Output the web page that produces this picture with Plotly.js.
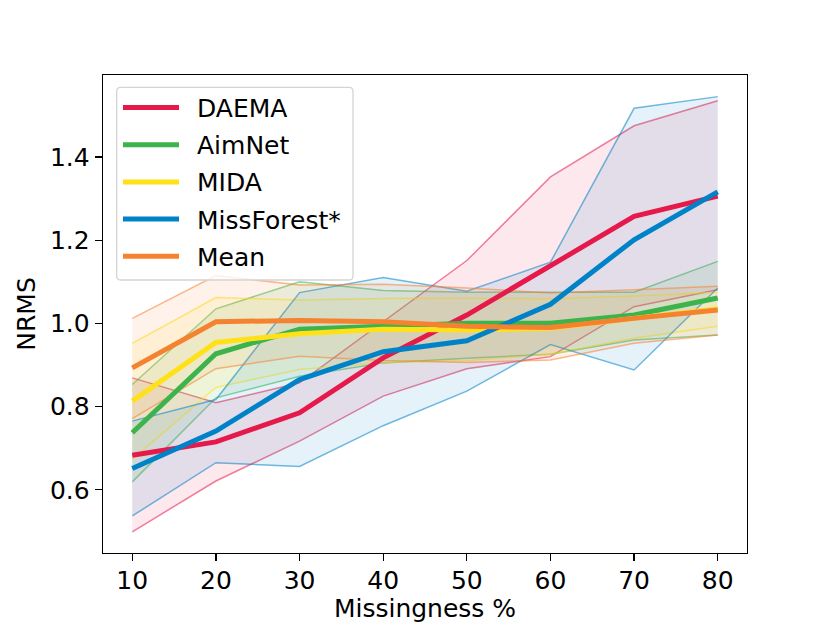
<!DOCTYPE html>
<html>
<head>
<meta charset="utf-8">
<script src="https://cdn.plot.ly/plotly-3.0.1.min.js"></script>
<style>html,body{margin:0;padding:0;background:#fff;}#chart{width:830px;height:623px;}</style>
</head>
<body>
<div id="chart"></div>
<script>
const missingness = [10, 20, 30, 40, 50, 60, 70, 80];

const daemaMean  = [0.683, 0.715, 0.785, 0.917, 1.020, 1.137, 1.257, 1.306];
const daemaUpper = [0.869, 0.809, 0.857, 1.004, 1.151, 1.352, 1.475, 1.535];
const daemaLower = [0.499, 0.621, 0.717, 0.825, 0.891, 0.920, 1.040, 1.081];

const aimnetMean  = [0.737, 0.927, 0.986, 0.992, 1.000, 1.000, 1.020, 1.061];
const aimnetUpper = [0.853, 1.035, 1.100, 1.079, 1.075, 1.075, 1.075, 1.149];
const aimnetLower = [0.619, 0.821, 0.873, 0.905, 0.916, 0.926, 0.960, 0.972];

const midaMean  = [0.813, 0.954, 0.975, 0.986, 0.984, 0.988, 1.012, 1.035];
const midaUpper = [0.952, 1.062, 1.056, 1.060, 1.061, 1.059, 1.066, 1.075];
const midaLower = [0.673, 0.846, 0.889, 0.906, 0.910, 0.926, 0.964, 0.993];

const missForestMean  = [0.651, 0.741, 0.865, 0.932, 0.958, 1.046, 1.201, 1.316];
const missForestUpper = [0.765, 0.817, 1.074, 1.110, 1.077, 1.147, 1.517, 1.545];
const missForestLower = [0.537, 0.665, 0.656, 0.754, 0.837, 0.949, 0.888, 1.085];

const meanMean  = [0.893, 1.004, 1.007, 1.004, 0.993, 0.990, 1.012, 1.032];
const meanUpper = [1.012, 1.115, 1.092, 1.094, 1.085, 1.073, 1.081, 1.089];
const meanLower = [0.771, 0.891, 0.921, 0.911, 0.906, 0.912, 0.952, 0.972];

const seriesNames = ['DAEMA', 'AimNet', 'MIDA', 'MissForest*', 'Mean'];
const seriesColors = [[230,25,75], [60,180,75], [255,225,25], [0,130,200], [245,130,48]];
const means = [daemaMean, aimnetMean, midaMean, missForestMean, meanMean];
const uppers = [daemaUpper, aimnetUpper, midaUpper, missForestUpper, meanUpper];
const lowers = [daemaLower, aimnetLower, midaLower, missForestLower, meanLower];

function rgba(c, a) { return 'rgba(' + c[0] + ',' + c[1] + ',' + c[2] + ',' + a + ')'; }

const traces = [];
seriesNames.forEach((name, i) => {
  const c = seriesColors[i];
  traces.push({
    x: missingness, y: lowers[i], type: 'scatter', mode: 'lines',
    line: {color: rgba(c, 0.55), width: 1.5}, showlegend: false, hoverinfo: 'skip'
  });
  traces.push({
    x: missingness, y: uppers[i], type: 'scatter', mode: 'lines',
    line: {color: rgba(c, 0.55), width: 1.5}, fill: 'tonexty', fillcolor: rgba(c, 0.1),
    showlegend: false, hoverinfo: 'skip'
  });
});
seriesNames.forEach((name, i) => {
  traces.push({
    x: missingness, y: means[i], type: 'scatter', mode: 'lines', name: name,
    line: {color: rgba(seriesColors[i], 1), width: 5}, showlegend: false
  });
});

// plot-area geometry (pixels) used only to place the legend box
const M = {l: 103, r: 83, t: 75, b: 70};
const PW = 830 - M.l - M.r, PH = 623 - M.t - M.b;
const px = v => (v - M.l) / PW;
const py = v => (623 - M.b - v) / PH;

// legend (drawn manually to match matplotlib spacing)
const shapes = [];
const annotations = [];
const bx0 = 116.7, bx1 = 353, by0 = 87.3, by1 = 280, rad = 4;
const rrect = 'M' + px(bx0 + rad) + ',' + py(by0) +
  ' L' + px(bx1 - rad) + ',' + py(by0) +
  ' Q' + px(bx1) + ',' + py(by0) + ' ' + px(bx1) + ',' + py(by0 + rad) +
  ' L' + px(bx1) + ',' + py(by1 - rad) +
  ' Q' + px(bx1) + ',' + py(by1) + ' ' + px(bx1 - rad) + ',' + py(by1) +
  ' L' + px(bx0 + rad) + ',' + py(by1) +
  ' Q' + px(bx0) + ',' + py(by1) + ' ' + px(bx0) + ',' + py(by1 - rad) +
  ' L' + px(bx0) + ',' + py(by0 + rad) +
  ' Q' + px(bx0) + ',' + py(by0) + ' ' + px(bx0 + rad) + ',' + py(by0) + ' Z';
shapes.push({type: 'path', xref: 'paper', yref: 'paper', path: rrect,
  fillcolor: 'rgba(255,255,255,0.8)', line: {color: '#d4d4d4', width: 1.3}});
seriesNames.forEach((name, i) => {
  const yc = 107.5 + 37.2 * i;
  shapes.push({type: 'line', xref: 'paper', yref: 'paper',
    x0: px(123), x1: px(179), y0: py(yc), y1: py(yc),
    line: {color: rgba(seriesColors[i], 1), width: 5}});
  annotations.push({xref: 'paper', yref: 'paper', x: px(195), y: py(yc + 1),
    xanchor: 'left', yanchor: 'middle', showarrow: false, text: name,
    font: {family: 'DejaVu Sans', size: 25, color: '#000'}});
});

const font = {family: 'DejaVu Sans', size: 25, color: '#000'};
const layout = {
  width: 830, height: 623,
  margin: M,
  paper_bgcolor: '#fff', plot_bgcolor: '#fff',
  font: font,
  showlegend: false,
  shapes: shapes,
  annotations: annotations,
  xaxis: {
    range: [6.5, 83.5], tickmode: 'array', tickvals: missingness,
    ticks: 'outside', ticklen: 7, tickwidth: 1.3, tickcolor: '#000',
    ticklabelstandoff: -2,
    showline: true, mirror: true, linecolor: '#000', linewidth: 1.3,
    showgrid: false, zeroline: false,
    tickfont: font,
    title: {text: 'Missingness %', font: font, standoff: 9},
    automargin: false
  },
  yaxis: {
    range: [0.448, 1.597], tickmode: 'array', tickvals: [0.6, 0.8, 1.0, 1.2, 1.4],
    ticktext: ['0.6', '0.8', '1.0', '1.2', '1.4'],
    ticks: 'outside', ticklen: 7, tickwidth: 1.3, tickcolor: '#000',
    showline: true, mirror: true, linecolor: '#000', linewidth: 1.3,
    showgrid: false, zeroline: false,
    tickfont: font,
    title: {text: 'NRMS', font: font, standoff: 7},
    automargin: false
  }
};

Plotly.newPlot('chart', traces, layout, {displayModeBar: false, staticPlot: true});
</script>
</body>
</html>
